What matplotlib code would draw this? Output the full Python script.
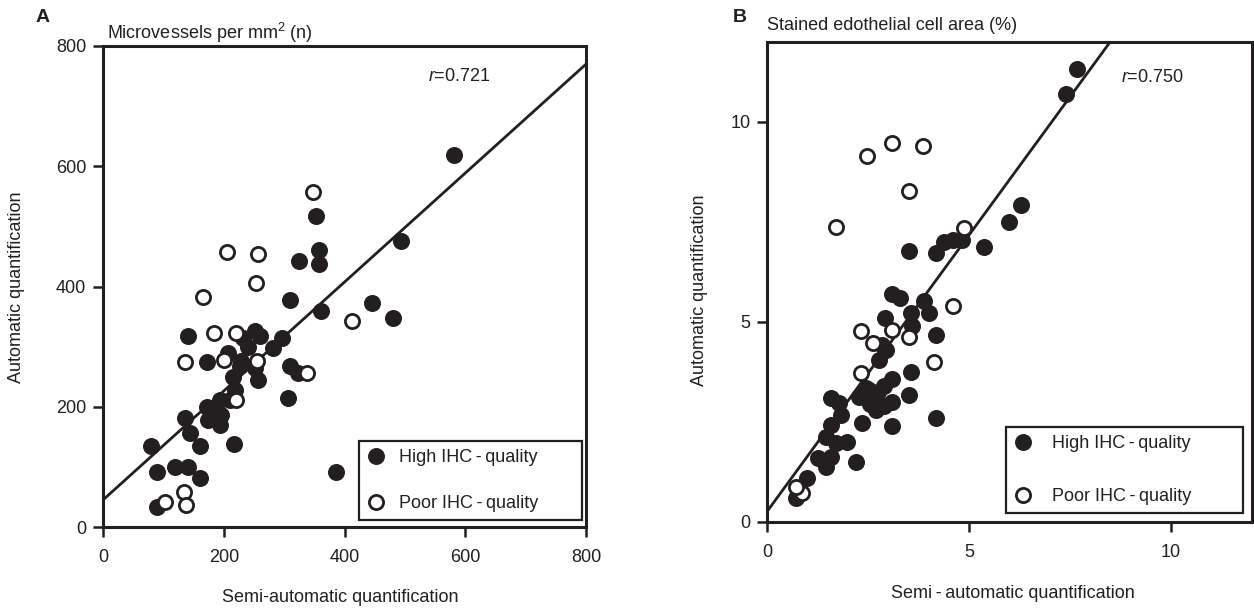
import matplotlib
matplotlib.use('Agg')
import matplotlib.pyplot as plt
from matplotlib.lines import Line2D
import numpy as np

plt.rcParams['font.family'] = ['Liberation Sans', 'DejaVu Sans']
plt.rcParams['mathtext.fontset'] = 'custom'
plt.rcParams['mathtext.rm'] = 'Liberation Sans'
plt.rcParams['mathtext.it'] = 'Liberation Sans:italic'

INK = '#231f20'

# ---------------- Panel A data (microvessels per mm2) ----------------
a_high_x = [581, 353, 357, 357, 325, 493, 310, 361, 445, 481, 386, 141, 232, 252,
            260, 296, 282, 172, 207, 229, 252, 257, 216, 310, 323, 307, 219, 210,
            194, 172, 136, 196, 182, 144, 161, 174, 217, 80, 89, 119, 141, 161, 89,
            227, 194, 240]
a_high_y = [619, 518, 460, 438, 442, 476, 378, 359, 372, 348, 91, 318, 314, 326,
            317, 314, 298, 274, 289, 276, 264, 245, 250, 267, 256, 214, 228, 212,
            212, 200, 181, 187, 192, 156, 134, 178, 138, 135, 91, 100, 100, 81, 33,
            267, 170, 300]
a_poor_x = [348, 205, 257, 253, 165, 413, 184, 221, 136, 200, 255, 338, 221, 134, 138, 103]
a_poor_y = [558, 458, 454, 406, 382, 343, 322, 323, 274, 278, 276, 256, 212, 58, 37, 42]
a_fit = (45.0, 0.906)          # intercept, slope
a_r_label = '$r$=0.721'
a_ticks = [0, 200, 400, 600, 800]

# ---------------- Panel B data (stained endothelial cell area %) ----------------
b_high_x = [7.67, 7.40, 6.28, 5.98, 5.37, 4.83, 4.60, 4.38, 4.18, 3.51, 3.10, 3.30,
            3.89, 4.01, 3.56, 2.92, 3.60, 4.18, 2.85, 2.94, 2.77, 3.56, 3.10, 2.52,
            2.28, 1.58, 1.78, 3.10, 3.51, 2.69, 1.82, 2.36, 1.58, 3.10, 4.18, 1.45,
            1.70, 1.99, 2.20, 1.25, 1.45, 1.58, 1.00, 0.71, 2.60, 2.90, 2.45, 2.55,
            2.75, 2.90]
b_high_y = [11.33, 10.70, 7.93, 7.49, 6.88, 7.05, 7.05, 7.00, 6.72, 6.78, 5.70, 5.60,
            5.53, 5.22, 5.22, 5.10, 4.90, 4.68, 4.43, 4.30, 4.05, 3.76, 3.57, 3.30,
            3.13, 3.09, 2.97, 3.00, 3.17, 2.80, 2.68, 2.47, 2.43, 2.40, 2.59, 2.13,
            1.97, 2.01, 1.51, 1.59, 1.38, 1.63, 1.09, 0.59, 3.10, 3.40, 3.35, 2.95,
            3.25, 2.90]
b_poor_x = [2.48, 3.09, 3.87, 3.51, 1.70, 4.88, 4.60, 2.32, 3.10, 3.51, 2.63, 4.13, 2.32, 0.87, 0.71]
b_poor_y = [9.16, 9.47, 9.40, 8.28, 7.37, 7.34, 5.40, 4.77, 4.80, 4.63, 4.47, 4.00, 3.73, 0.72, 0.88]
b_fit = (0.26, 1.383)
b_r_label = '$r$=0.750'
b_ticks = [0, 5, 10]

legend_labels = ['High IHC\u2009-\u2009quality', 'Poor IHC\u2009-\u2009quality']

W, H = 1254, 608
fig = plt.figure(figsize=(W / 100, H / 100), dpi=100)


def px_axes(l, t, r, b):
    return fig.add_axes([l / W, 1 - b / H, (r - l) / W, (b - t) / H])


def style(ax, ticks, lim):
    ax.set_xlim(0, lim)
    ax.set_ylim(0, lim)
    ax.set_xticks(ticks)
    ax.set_yticks(ticks)
    for s in ax.spines.values():
        s.set_linewidth(2.2)
        s.set_color(INK)
    ax.tick_params(direction='out', length=7, width=1.8, color=INK,
                   labelsize=13, labelcolor=INK)
    ax.tick_params(axis='x', pad=9)
    ax.tick_params(axis='y', pad=5)


def draw(ax, hx, hy, px_, py_, fit, lim):
    xs = np.array([0, lim])
    ax.plot(xs, fit[0] + fit[1] * xs, color=INK, lw=2.0, zorder=2, clip_on=True)
    ax.scatter(hx, hy, s=150, c=INK, linewidths=0, zorder=3, clip_on=False)
    ax.scatter(px_, py_, s=104, facecolors='white', edgecolors=INK, linewidths=2.0,
               zorder=4, clip_on=False)


def legend(ax, bbox, ls, bp, htp):
    handles = [Line2D([], [], marker='o', ls='', ms=12.2, mfc=INK, mec=INK, mew=0),
               Line2D([], [], marker='o', ls='', ms=10.2, mfc='white', mec=INK, mew=2.0)]
    leg = ax.legend(handles, legend_labels, loc='lower left', bbox_to_anchor=bbox,
                    mode='expand', borderaxespad=0, fancybox=False, edgecolor=INK,
                    framealpha=1, fontsize=13, labelspacing=ls, borderpad=bp,
                    handlelength=1.0, handletextpad=htp, labelcolor=INK)
    leg.get_frame().set_linewidth(1.6)
    leg.set_zorder(5)


# Panel A
axA = px_axes(103, 46, 586, 527)
style(axA, a_ticks, 800)
draw(axA, a_high_x, a_high_y, a_poor_x, a_poor_y, a_fit, 800)
axA.text(538, 750, a_r_label, ha='left', va='center', fontsize=13, color=INK)
legend(axA, (0.530, 0.0146, 0.4617, 0.181), 1.6, 0.45, 0.78)

# Panel B
axB = px_axes(767, 42, 1252, 522)
style(axB, b_ticks, 12)
draw(axB, b_high_x, b_high_y, b_poor_x, b_poor_y, b_fit, 12)
axB.text(8.76, 11.1, b_r_label, ha='left', va='center', fontsize=13, color=INK)
legend(axB, (0.4928, 0.0194, 0.489, 0.1946), 2.0, 0.42, 1.15)

# Figure texts
fig.text(43 / W, 1 - 17 / H, 'A', fontsize=14, fontweight='bold', ha='center', va='center', color=INK)
fig.text(107 / W, 1 - 33 / H, 'Microvessels per mm$^2$ (n)', fontsize=13, ha='left', va='center', color=INK)
fig.text(740 / W, 1 - 18 / H, 'B', fontsize=14, fontweight='bold', ha='center', va='center', color=INK)
fig.text(767 / W, 1 - 25 / H, 'Stained edothelial cell area (%)', fontsize=13, ha='left', va='center', color=INK)

fig.text(17 / W, 1 - 287 / H, 'Automatic quantification', fontsize=13, rotation=90,
         ha='center', va='center', color=INK)
fig.text(700 / W, 1 - 290 / H, 'Automatic quantification', fontsize=13, rotation=90,
         ha='center', va='center', color=INK)
fig.text(340 / W, 1 - 598 / H, 'Semi-automatic quantification', fontsize=13,
         ha='center', va='center', color=INK)
fig.text(1013 / W, 1 - 593 / H, 'Semi\u2009-\u2009automatic quantification', fontsize=13,
         ha='center', va='center', color=INK)

fig.savefig('out.png', dpi=100, facecolor='white')
